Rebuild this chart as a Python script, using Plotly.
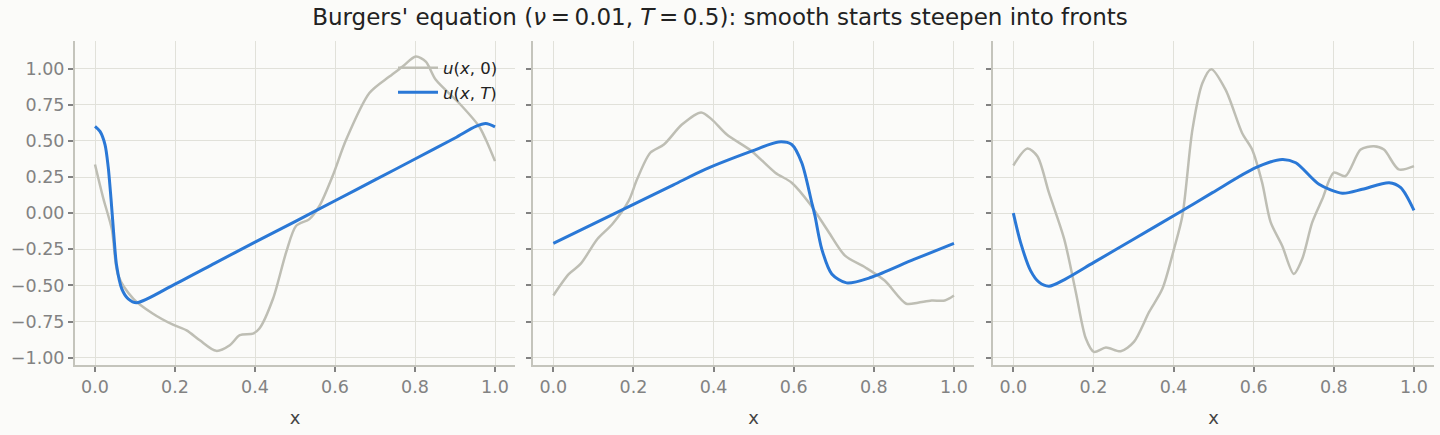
import plotly.graph_objects as go
from plotly.subplots import make_subplots

# ---- data ----
p1_x0 = [0, 0.021, 0.042, 0.058, 0.096, 0.145, 0.195, 0.229, 0.262, 0.303, 0.337, 0.362, 0.395, 0.411, 0.445,
         0.478, 0.503, 0.536, 0.561, 0.594, 0.628, 0.686, 0.736, 0.769, 0.802, 0.827, 0.852, 0.910, 0.96, 0.977, 1.0]
p1_y0 = [0.337, 0.10, -0.11, -0.431, -0.592, -0.695, -0.771, -0.81, -0.879, -0.952, -0.913, -0.844, -0.833, -0.798,
         -0.592, -0.27, -0.087, -0.041, 0.05, 0.257, 0.509, 0.831, 0.945, 1.014, 1.083, 1.048, 0.922, 0.762, 0.601,
         0.509, 0.36]
p1_xT = [0, 0.0125, 0.025, 0.033, 0.04, 0.047, 0.054, 0.067, 0.083, 0.104, 0.2, 0.3, 0.4, 0.5, 0.6, 0.7, 0.8, 0.9,
         0.952, 0.977, 1.0]
p1_yT = [0.601, 0.566, 0.475, 0.32, 0.1, -0.15, -0.362, -0.523, -0.592, -0.619, -0.49, -0.345, -0.2, -0.058, 0.086,
         0.23, 0.375, 0.52, 0.6, 0.62, 0.597]

p2_x0 = [0, 0.039, 0.068, 0.11, 0.147, 0.188, 0.209, 0.242, 0.276, 0.321, 0.369, 0.396, 0.433, 0.495, 0.554, 0.595,
         0.641, 0.686, 0.728, 0.778, 0.827, 0.881, 0.910, 0.944, 0.977, 1.0]
p2_y0 = [-0.569, -0.42, -0.351, -0.179, -0.076, 0.085, 0.234, 0.418, 0.475, 0.613, 0.697, 0.647, 0.544, 0.429, 0.28,
         0.211, 0.062, -0.125, -0.294, -0.374, -0.466, -0.626, -0.619, -0.604, -0.604, -0.569]
p2_xT = [0, 0.1, 0.2, 0.3, 0.379, 0.495, 0.562, 0.595, 0.620, 0.645, 0.653, 0.670, 0.695, 0.732, 0.794, 0.9, 1.0]
p2_yT = [-0.209, -0.074, 0.061, 0.196, 0.303, 0.429, 0.493, 0.475, 0.349, 0.074, -0.018, -0.248, -0.42, -0.482,
         -0.443, -0.32, -0.209]

p3_x0 = [0, 0.035, 0.06, 0.089, 0.127, 0.156, 0.181, 0.201, 0.231, 0.268, 0.301, 0.339, 0.372, 0.401, 0.422, 0.447,
         0.472, 0.494, 0.530, 0.571, 0.596, 0.621, 0.642, 0.671, 0.7, 0.721, 0.746, 0.771, 0.80, 0.829, 0.867, 0.9,
         0.925, 0.962, 1.0]
p3_y0 = [0.33, 0.447, 0.394, 0.14, -0.179, -0.546, -0.867, -0.959, -0.929, -0.955, -0.89, -0.683, -0.523, -0.248,
         -0.018, 0.578, 0.9, 0.996, 0.853, 0.555, 0.44, 0.211, -0.06, -0.225, -0.42, -0.317, -0.064, 0.096, 0.28,
         0.257, 0.44, 0.463, 0.44, 0.303, 0.326]
p3_xT = [0, 0.018, 0.043, 0.064, 0.089, 0.131, 0.2, 0.3, 0.414, 0.497, 0.605, 0.671, 0.705, 0.763, 0.821, 0.871,
         0.938, 0.967, 1.0]
p3_yT = [0.0, -0.202, -0.397, -0.477, -0.505, -0.454, -0.342, -0.18, 0.005, 0.142, 0.315, 0.372, 0.349, 0.2, 0.138,
         0.165, 0.211, 0.177, 0.02]

panels = [(p1_x0, p1_y0, p1_xT, p1_yT), (p2_x0, p2_y0, p2_xT, p2_yT), (p3_x0, p3_y0, p3_xT, p3_yT)]
x_ticks = [0.0, 0.2, 0.4, 0.6, 0.8, 1.0]
y_ticks = [-1.0, -0.75, -0.5, -0.25, 0.0, 0.25, 0.5, 0.75, 1.0]

GRAY = "#bebeb4"
BLUE = "#2a78d6"
BG = "#fbfbf9"
GRID = "#e1e1da"
AXIS = "#c4c4bc"
TICKC = "#828282"

fig = make_subplots(rows=1, cols=3, shared_yaxes=True)
for i, (x0, y0, xT, yT) in enumerate(panels, start=1):
    fig.add_trace(go.Scatter(x=x0, y=y0, mode="lines", name="<i>u</i>(<i>x</i>, 0)",
                             line=dict(color=GRAY, width=2.5, shape="spline", smoothing=0.8),
                             showlegend=(i == 1), legendrank=1), row=1, col=i)
    fig.add_trace(go.Scatter(x=xT, y=yT, mode="lines", name="<i>u</i>(<i>x</i>, <i>T</i>)",
                             line=dict(color=BLUE, width=3, shape="spline", smoothing=0.8),
                             showlegend=(i == 1), legendrank=2), row=1, col=i)

doms = [(75 / 1440, 515 / 1440), (533.3 / 1440, 974 / 1440), (993.3 / 1440, 1434 / 1440)]
ydom = ((435 - 367.7) / 435, (435 - 41.7) / 435)
for i, d in enumerate(doms, start=1):
    fig.update_xaxes(row=1, col=i, domain=list(d), range=[-0.05, 1.05], tickvals=x_ticks,
                     ticktext=[f"{v:.1f}" for v in x_ticks], showgrid=True, gridcolor=GRID, gridwidth=1,
                     showline=True, linecolor=AXIS, linewidth=2, ticks="outside", ticklen=5, tickwidth=1.5,
                     tickcolor=TICKC, zeroline=False,
                     tickfont=dict(family="DejaVu Sans", size=17.5, color=TICKC),
                     title=dict(text="x", font=dict(family="DejaVu Sans", size=18, color="#444444"), standoff=15))
    fig.update_yaxes(row=1, col=i, domain=list(ydom), range=[-1.051, 1.188], tickvals=y_ticks,
                     ticktext=[f"{v:.2f}".replace("-", "\u2212") for v in y_ticks], showgrid=True,
                     gridcolor=GRID, gridwidth=1, showline=True, linecolor=AXIS, linewidth=2, ticks="outside",
                     ticklen=5, tickwidth=1.5, tickcolor=TICKC, zeroline=False, showticklabels=(i == 1),
                     tickfont=dict(family="DejaVu Sans", size=17.5, color=TICKC))

fig.update_layout(
    width=1440, height=435, margin=dict(l=0, r=0, t=0, b=0),
    paper_bgcolor=BG, plot_bgcolor=BG,
    title=dict(text="Burgers' equation (<i>ν</i>\u2009=\u20090.01, <i>T</i>\u2009=\u20090.5): smooth starts steepen into fronts",
               x=0.5, xanchor="center", y=1 - 17 / 435, yanchor="middle",
               font=dict(family="DejaVu Sans", size=23, color="#222222")),
    legend=dict(x=503 / 1440, xanchor="right", y=1 - 51 / 435, yanchor="top", bgcolor="rgba(0,0,0,0)",
                font=dict(family="DejaVu Sans", size=16.5, color="#222222"), tracegroupgap=0,
                itemwidth=40),
    showlegend=True,
)

fig.write_html("out.html")
